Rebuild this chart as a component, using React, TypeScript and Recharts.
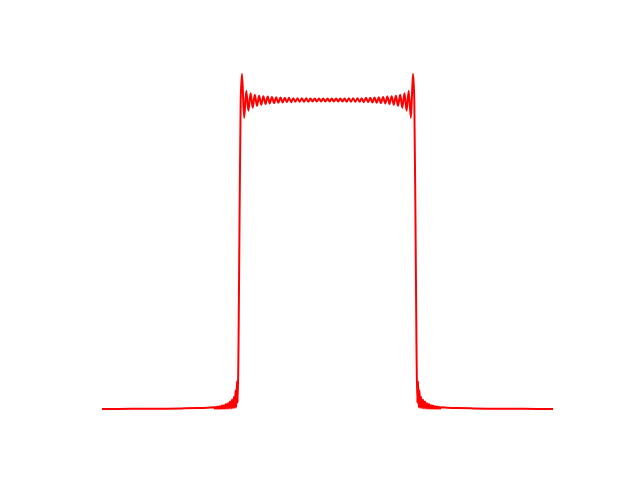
import React from "react";
import { LineChart, Line, XAxis, YAxis } from "recharts";

// sample positions (0 = left end, 451 = right end)
const xValues: number[] = [
  0, 30, 60, 80, 95, 105, 112,
  113, 114, 115, 116, 117, 118, 119, 120, 121, 122, 123, 124, 125, 126, 127, 128, 129, 130, 131, 132, 132.8, 133.5, 134.2, 135, 135.7,
  136.5, 137.5, 138.7,
  140.0, 142.1, 144.3, 146.4, 148.6, 150.7, 152.8, 155.0, 157.1, 159.2,
  161.4, 163.5, 165.7, 167.8, 169.9, 172.1, 174.2, 176.3, 178.5, 180.6,
  182.8, 184.9, 187.0, 189.2, 191.3, 193.4, 195.6, 197.7, 199.9, 202.0,
  204.1, 206.3, 208.4, 210.5, 212.7, 214.8, 217.0, 219.1, 221.2, 223.4,
  225.5,
  227.6, 229.8, 231.9, 234.1, 236.2, 238.3, 240.5, 242.6, 244.7, 246.9,
  249.0, 251.2, 253.3, 255.4, 257.6, 259.7, 261.8, 264.0, 266.1, 268.3,
  270.4, 272.5, 274.7, 276.8, 278.9, 281.1, 283.2, 285.4, 287.5, 289.6,
  291.8, 293.9, 296.0, 298.2, 300.3, 302.5, 304.6, 306.7, 308.9, 311.0,
  312.3, 313.5, 314.5,
  315.3, 316, 316.8, 317.5, 318.2, 319, 320, 321, 322, 323, 324, 325, 326, 327, 328, 329, 330, 331, 332, 333, 334, 335, 336, 337, 338,
  339, 346, 356, 371, 391, 421, 451,
];

const yValues: number[] = [
  0, 0.0005, 0.001, 0.002, 0.003, 0.004, 0.006,
  0.001, 0.007, 0.001, 0.008, 0.001, 0.009, 0.001, 0.011, 0.001, 0.013, 0.001, 0.016, 0.002, 0.019, 0.002, 0.024, 0.002, 0.03, 0.003, 0.04, 0.004, 0.06, 0.005, 0.09, 0.02,
  0.2, 0.6, 1.0,
  1.085, 0.942, 1.03, 0.965, 1.022, 0.975, 1.017, 0.981, 1.014, 0.985,
  1.012, 0.987, 1.011, 0.989, 1.01, 0.99, 1.009, 0.991, 1.008, 0.992,
  1.007, 0.993, 1.007, 0.993, 1.006, 0.994, 1.006, 0.994, 1.006, 0.994,
  1.006, 0.994, 1.005, 0.995, 1.005, 0.995, 1.005, 0.995, 1.005, 0.995,
  1.005,
  0.995, 1.005, 0.995, 1.005, 0.995, 1.005, 0.995, 1.005, 0.994, 1.006,
  0.994, 1.006, 0.994, 1.006, 0.994, 1.006, 0.993, 1.007, 0.993, 1.007,
  0.992, 1.008, 0.991, 1.009, 0.99, 1.01, 0.989, 1.011, 0.987, 1.012,
  0.985, 1.014, 0.981, 1.017, 0.975, 1.022, 0.965, 1.03, 0.942, 1.085,
  1.0, 0.6, 0.2,
  0.02, 0.09, 0.005, 0.06, 0.004, 0.04, 0.003, 0.03, 0.002, 0.024, 0.002, 0.019, 0.002, 0.016, 0.001, 0.013, 0.001, 0.011, 0.001, 0.009, 0.001, 0.008, 0.001, 0.007, 0.001,
  0.006, 0.004, 0.003, 0.002, 0.001, 0.0005, 0,
];

const data = xValues.map((x, i) => ({ x, y: yValues[i] }));

export default function App() {
  return (
    <div style={{ position: "absolute", left: 0, top: 0, width: 640, height: 480, background: "#fff" }}>
      <LineChart
        width={640}
        height={480}
        data={data}
        margin={{ top: 38.2, right: 87, bottom: 40.1, left: 102 }}
      >
        <XAxis type="number" dataKey="x" domain={[0, 451]} hide allowDataOverflow />
        <YAxis type="number" domain={[-0.1, 1.2]} hide allowDataOverflow />
        <Line
          type="monotoneX"
          dataKey="y"
          stroke="#ff0000"
          strokeWidth={2}
          dot={false}
          activeDot={false}
          isAnimationActive={false}
        />
      </LineChart>
    </div>
  );
}
